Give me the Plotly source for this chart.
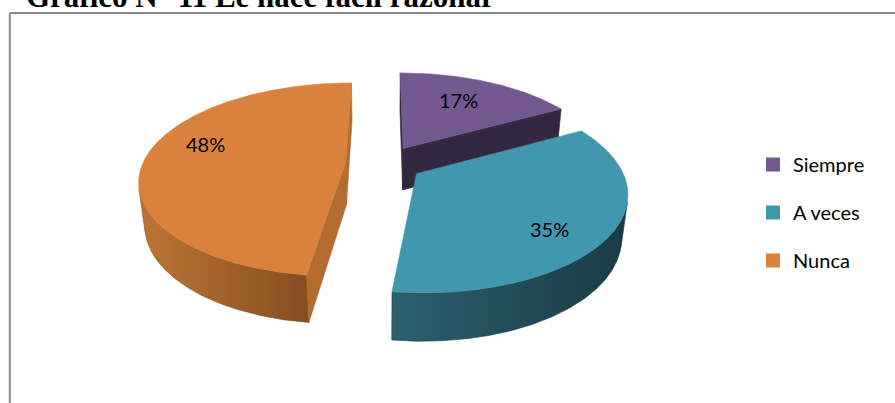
import numpy as np
import plotly.graph_objects as go

# Survey answers and their shares (percent)
categories = ["Siempre", "A veces", "Nunca"]
percentages = [17, 35, 48]

# Face colours per slice: top, curved wall gradient (left -> right), cut faces
top_colors = ["#73578F", "#4197AE", "#D9813D"]
wall_colors = [("#3B2D4A", "#2E2339"), ("#2A616D", "#1B3A44"), ("#BD7535", "#844E20")]
cut_colors = ["#342841", "#24525D", "#B26C2F"]

title_text = "Gráfico N° 11 Le hace fácil razonar"

# Label placement on each top face: angular shift from the bisector and radius
label_shift_deg = [-2.6, 8.0, 12.4]
label_radius = [0.68, 0.765, 0.756]

# ---- 3D view settings (world radius = 1) ----
W, H_PX = 895, 403
TILT = np.radians(30.0)
CAM_DIST = 5.0
SCALE = 198.0
ORIGIN_X = 384.0
TOP_CENTER_Y = 163.5
THICK = 0.24
EXPLODE = 0.19

sin_t, cos_t = np.sin(TILT), np.cos(TILT)
_k0 = CAM_DIST / (CAM_DIST - THICK * sin_t)
ORIGIN_Y = TOP_CENTER_Y + SCALE * THICK * cos_t * _k0
CAMERA = np.array([0.0, -CAM_DIST * cos_t, CAM_DIST * sin_t])


def project(X, Y, Z):
    X, Y, Z = np.asarray(X, float), np.asarray(Y, float), np.asarray(Z, float)
    v = Y * sin_t + Z * cos_t
    w = Y * cos_t - Z * sin_t
    k = CAM_DIST / (CAM_DIST + w)
    return ORIGIN_X + SCALE * X * k, ORIGIN_Y - SCALE * v * k


def facing(normal, point):
    return float(np.dot(normal, CAMERA - np.asarray(point))) > 0


def poly_trace(xs, ys, color=None, gradient=None):
    xs = list(xs) + [xs[0]]
    ys = list(ys) + [ys[0]]
    kw = dict(x=xs, y=ys, mode="lines", fill="toself", hoverinfo="skip",
              showlegend=False)
    if gradient:
        kw["line"] = dict(width=0.6, color=gradient[1])
        kw["fillgradient"] = dict(type="horizontal",
                                  colorscale=[[0, gradient[0]], [1, gradient[1]]])
    else:
        kw["line"] = dict(width=0.6, color=color)
        kw["fillcolor"] = color
    return go.Scatter(**kw)


# slice angles (clockwise from 12 o'clock)
total = float(sum(percentages))
bounds = np.concatenate([[0.0], np.cumsum(percentages) / total * 360.0])

slices = []
for i, p in enumerate(percentages):
    a1, a2 = bounds[i], bounds[i + 1]
    mid = np.radians((a1 + a2) / 2)
    ox, oy = EXPLODE * np.sin(mid), EXPLODE * np.cos(mid)
    slices.append(dict(i=i, a1=np.radians(a1), a2=np.radians(a2), mid=mid, ox=ox, oy=oy))

fig = go.Figure()

# paint from back to front
for s in sorted(slices, key=lambda d: -d["oy"]):
    i, a1, a2, ox, oy = s["i"], s["a1"], s["a2"], s["ox"], s["oy"]
    n = max(8, int(np.degrees(a2 - a1) * 3))
    th = np.linspace(a1, a2, n)
    rx, ry = ox + np.sin(th), oy + np.cos(th)

    # curved outer wall (visible part only)
    vis = np.array([facing([np.sin(t), np.cos(t), 0], [ox + np.sin(t), oy + np.cos(t), THICK / 2])
                    for t in th])
    if vis.sum() >= 2:
        idx = np.where(vis)[0]
        tx, ty = project(rx[idx], ry[idx], np.full(len(idx), THICK))
        bx, by = project(rx[idx], ry[idx], np.zeros(len(idx)))
        fig.add_trace(poly_trace(np.r_[tx, bx[::-1]], np.r_[ty, by[::-1]],
                                 gradient=wall_colors[i]))

    # radial cut faces
    for ang, nrm in ((a1, [-np.cos(a1), np.sin(a1), 0]), (a2, [np.cos(a2), -np.sin(a2), 0])):
        mp = [ox + 0.5 * np.sin(ang), oy + 0.5 * np.cos(ang), THICK / 2]
        if facing(nrm, mp):
            X = [ox, ox + np.sin(ang), ox + np.sin(ang), ox]
            Y = [oy, oy + np.cos(ang), oy + np.cos(ang), oy]
            Z = [THICK, THICK, 0, 0]
            px, py = project(X, Y, Z)
            fig.add_trace(poly_trace(px, py, color=cut_colors[i]))

    # top face
    px, py = project(np.r_[ox, rx], np.r_[oy, ry], np.full(n + 1, THICK))
    fig.add_trace(poly_trace(px, py, color=top_colors[i]))

# percentage labels
for s in slices:
    i = s["i"]
    a = s["mid"] + np.radians(label_shift_deg[i])
    lx, ly = project(s["ox"] + label_radius[i] * np.sin(a),
                     s["oy"] + label_radius[i] * np.cos(a), THICK)
    fig.add_annotation(x=float(lx), y=float(ly), text=f"{percentages[i]}%", showarrow=False,
                       font=dict(family="Lato", size=20, color="black"))

# legend entries
for i, c in enumerate(categories):
    fig.add_trace(go.Scatter(x=[None], y=[None], mode="markers", name=c, legendgroup=c,
                             marker=dict(symbol="square", size=14, color=top_colors[i],
                                         line=dict(width=0)),
                             showlegend=True, hoverinfo="skip"))

# chart frame
frame = dict(type="line", xref="x", yref="y", line=dict(color="#888888", width=2))
fig.add_shape(**frame, x0=9.8, y0=13, x1=W + 5, y1=13)
fig.add_shape(**frame, x0=9.8, y0=13, x1=9.8, y1=H_PX + 5)

# title (runs past the top edge of the page)
fig.add_annotation(x=24, y=16, xanchor="left", yanchor="bottom", showarrow=False,
                   text=f"<b>{title_text}</b>",
                   font=dict(family="Liberation Serif", size=31, color="black"))

fig.update_layout(
    width=W, height=H_PX,
    margin=dict(l=0, r=0, t=0, b=0),
    paper_bgcolor="white", plot_bgcolor="white",
    xaxis=dict(range=[0, W], visible=False, fixedrange=True),
    yaxis=dict(range=[H_PX, 0], visible=False, fixedrange=True),
    showlegend=True,
    legend=dict(x=753 / W, xanchor="left", y=1 - 145 / H_PX, yanchor="top",
                font=dict(family="Lato", size=20, color="black"),
                tracegroupgap=19, bgcolor="rgba(0,0,0,0)", borderwidth=0),
)

fig.write_html("out.html", config={"displayModeBar": False})
